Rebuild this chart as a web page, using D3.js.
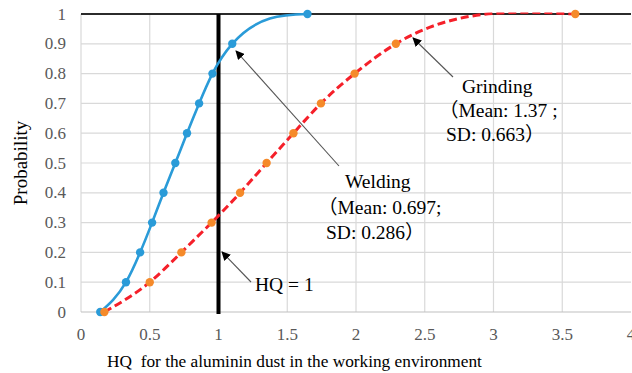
<!DOCTYPE html>
<html>
<head>
<meta charset="utf-8">
<script src="https://cdn.jsdelivr.net/npm/d3@7"></script>
<style>
  html, body { margin: 0; padding: 0; background: #fff; }
  svg { display: block; }
  svg text { font-family: "Liberation Serif", "Noto Sans CJK SC", serif; }
</style>
</head>
<body>
<svg id="chart" width="632" height="373"></svg>
<script>
// Cumulative probability levels shared by both series
const probabilities = [0, 0.1, 0.2, 0.3, 0.4, 0.5, 0.6, 0.7, 0.8, 0.9, 1.0];
// HQ values for welding fumes
const weldingHQ = [0.14, 0.327, 0.43, 0.517, 0.6, 0.686, 0.771, 0.859, 0.956, 1.10, 1.647];
// HQ values for grinding dust
const grindingHQ = [0.17, 0.50, 0.73, 0.95, 1.157, 1.35, 1.545, 1.745, 1.99, 2.29, 3.595];

const xTicks = [0, 0.5, 1, 1.5, 2, 2.5, 3, 3.5, 4];
const yTicks = [0, 0.1, 0.2, 0.3, 0.4, 0.5, 0.6, 0.7, 0.8, 0.9, 1];
const referenceHQ = 1;

const svg = d3.select("#chart");
const margin = { left: 81, right: 1, top: 14, bottom: 61 };
const H = 373;

const x = d3.scaleLinear().domain([0, 4]).range([margin.left, margin.left + 4 * 137.5]);
const y = d3.scaleLinear().domain([0, 1]).range([H - margin.bottom, margin.top]);

const gridColor = "#d9d9d9";
const tickColor = "#595959";

// Smooth y(x) curve: natural cubic spline through the points, drawn as
// Hermite segments converted to cubic Béziers (same form d3 uses for curveMonotoneX).
function curveSplineX(context) {
  let xs, ys;
  return {
    areaStart() {}, areaEnd() {},
    lineStart() { xs = []; ys = []; },
    point(px, py) { xs.push(+px); ys.push(+py); },
    lineEnd() {
      const n = xs.length - 1;
      if (n < 1) return;
      const h = d3.range(n).map(i => xs[i + 1] - xs[i]);
      const s = d3.range(n).map(i => (ys[i + 1] - ys[i]) / h[i]);
      // tridiagonal system for second derivatives, natural ends
      const M = new Array(n + 1).fill(0);
      if (n > 1) {
        const a = [], b = [], c = [], r = [];
        for (let i = 1; i < n; i++) {
          a.push(h[i - 1]); b.push(2 * (h[i - 1] + h[i])); c.push(h[i]);
          r.push(6 * (s[i] - s[i - 1]));
        }
        const m = b.length;
        for (let i = 1; i < m; i++) {
          const w = a[i] / b[i - 1];
          b[i] -= w * c[i - 1]; r[i] -= w * r[i - 1];
        }
        const sol = new Array(m);
        sol[m - 1] = r[m - 1] / b[m - 1];
        for (let i = m - 2; i >= 0; i--) sol[i] = (r[i] - c[i] * sol[i + 1]) / b[i];
        for (let i = 0; i < m; i++) M[i + 1] = sol[i];
      }
      const slope = d3.range(n + 1).map(i => i < n
        ? s[i] - h[i] * (2 * M[i] + M[i + 1]) / 6
        : s[n - 1] + h[n - 1] * (M[n - 1] + 2 * M[n]) / 6);
      context.moveTo(xs[0], ys[0]);
      for (let i = 0; i < n; i++) {
        const d = h[i] / 3;
        context.bezierCurveTo(
          xs[i] + d, ys[i] + slope[i] * d,
          xs[i + 1] - d, ys[i + 1] - slope[i + 1] * d,
          xs[i + 1], ys[i + 1]);
      }
    }
  };
}

// Plot-area clip so smoothed lines stay inside the 0–1 range
const defs = svg.append("defs");
defs.append("clipPath").attr("id", "plotClip")
  .append("rect")
  .attr("x", x(0)).attr("y", y(1) - 1.5)
  .attr("width", x(4) - x(0)).attr("height", y(0) - y(1) + 8);

// Horizontal gridlines
svg.append("g").selectAll("line").data(yTicks.slice(1, -1)).join("line")
  .attr("x1", x(0)).attr("x2", x(4))
  .attr("y1", d => y(d)).attr("y2", d => y(d))
  .attr("stroke", gridColor).attr("stroke-width", 1.2);

// Vertical gridlines
svg.append("g").selectAll("line").data(xTicks.slice(0, -1)).join("line")
  .attr("x1", d => x(d)).attr("x2", d => x(d))
  .attr("y1", y(1)).attr("y2", y(0))
  .attr("stroke", gridColor).attr("stroke-width", 1.2);

// Bottom axis baseline
svg.append("line")
  .attr("x1", x(0)).attr("x2", x(4)).attr("y1", y(0)).attr("y2", y(0))
  .attr("stroke", "#bfbfbf").attr("stroke-width", 1.2);

// Upper bound at probability 1
svg.append("line")
  .attr("x1", x(0)).attr("x2", x(4)).attr("y1", y(1)).attr("y2", y(1))
  .attr("stroke", "#2b2b2b").attr("stroke-width", 2);

// Y tick labels
svg.append("g").selectAll("text").data(yTicks).join("text")
  .attr("x", 66).attr("y", d => y(d) + 5.5)
  .attr("text-anchor", "end")
  .attr("font-size", 17).attr("fill", tickColor)
  .text(d => d3.format("~g")(d));

// X tick labels
svg.append("g").selectAll("text").data(xTicks).join("text")
  .attr("x", d => x(d)).attr("y", 340)
  .attr("text-anchor", "middle")
  .attr("font-size", 17).attr("fill", tickColor)
  .text(d => d3.format("~g")(d));

// Axis titles
svg.append("text")
  .attr("x", 294.5).attr("y", 367)
  .attr("text-anchor", "middle")
  .attr("font-size", 17.3).attr("fill", "#000")
  .attr("xml:space", "preserve")
  .text("HQ  for the aluminin dust in the working environment");

svg.append("text")
  .attr("transform", `translate(27, ${y(0.5)}) rotate(-90)`)
  .attr("text-anchor", "middle")
  .attr("font-size", 19).attr("fill", "#000")
  .text("Probability");

// HQ = 1 reference line
svg.append("line")
  .attr("x1", x(referenceHQ)).attr("x2", x(referenceHQ))
  .attr("y1", y(1)).attr("y2", y(0) + 2)
  .attr("stroke", "#000").attr("stroke-width", 4);

const line = d3.line().curve(curveSplineX)
  .x(d => x(d[0])).y(d => y(d[1]));

const welding = weldingHQ.map((v, i) => [v, probabilities[i]]);
const grinding = grindingHQ.map((v, i) => [v, probabilities[i]]);

// Welding series
svg.append("path").datum(welding)
  .attr("clip-path", "url(#plotClip)")
  .attr("d", line).attr("fill", "none")
  .attr("stroke", "#2a9bd8").attr("stroke-width", 2.6);
svg.append("g").selectAll("circle").data(welding).join("circle")
  .attr("cx", d => x(d[0])).attr("cy", d => y(d[1])).attr("r", 4.2)
  .attr("fill", "#2a9bd8");

// Grinding series
svg.append("path").datum(grinding)
  .attr("clip-path", "url(#plotClip)")
  .attr("d", line).attr("fill", "none")
  .attr("stroke", "#f5202a").attr("stroke-width", 3)
  .attr("stroke-dasharray", "8,4");
svg.append("g").selectAll("circle").data(grinding).join("circle")
  .attr("cx", d => x(d[0])).attr("cy", d => y(d[1])).attr("r", 4.2)
  .attr("fill", "#f58a2a");

// Annotation arrows
defs.append("marker").attr("id", "arrow")
  .attr("viewBox", "0 0 10 10").attr("refX", 9).attr("refY", 5)
  .attr("markerWidth", 9).attr("markerHeight", 9).attr("orient", "auto")
  .attr("markerUnits", "userSpaceOnUse")
  .append("path").attr("d", "M0,0 L10,5 L0,10 z").attr("fill", "#000");

function arrow(x1, y1, x2, y2) {
  svg.append("line")
    .attr("x1", x1).attr("y1", y1).attr("x2", x2).attr("y2", y2)
    .attr("stroke", "#555").attr("stroke-width", 1.1)
    .attr("marker-end", "url(#arrow)");
}

arrow(453, 77, 413, 38);
arrow(339, 166, 236, 51);
arrow(251, 282, 222, 252);

function label(lines, x0, y0, step) {
  const t = svg.append("text")
    .attr("font-size", 19.5).attr("fill", "#000");
  lines.forEach((s, i) => {
    t.append("tspan").attr("x", x0[i]).attr("y", y0 + i * step).text(s);
  });
}

label(["Grinding", "（Mean: 1.37 ;", "SD: 0.663）"], [462, 439, 446], 93, 24);
label(["Welding", "（Mean: 0.697;", "SD: 0.286）"], [345, 318, 326], 188, 25.5);
label(["HQ = 1"], [255], 291, 0);
</script>
</body>
</html>
